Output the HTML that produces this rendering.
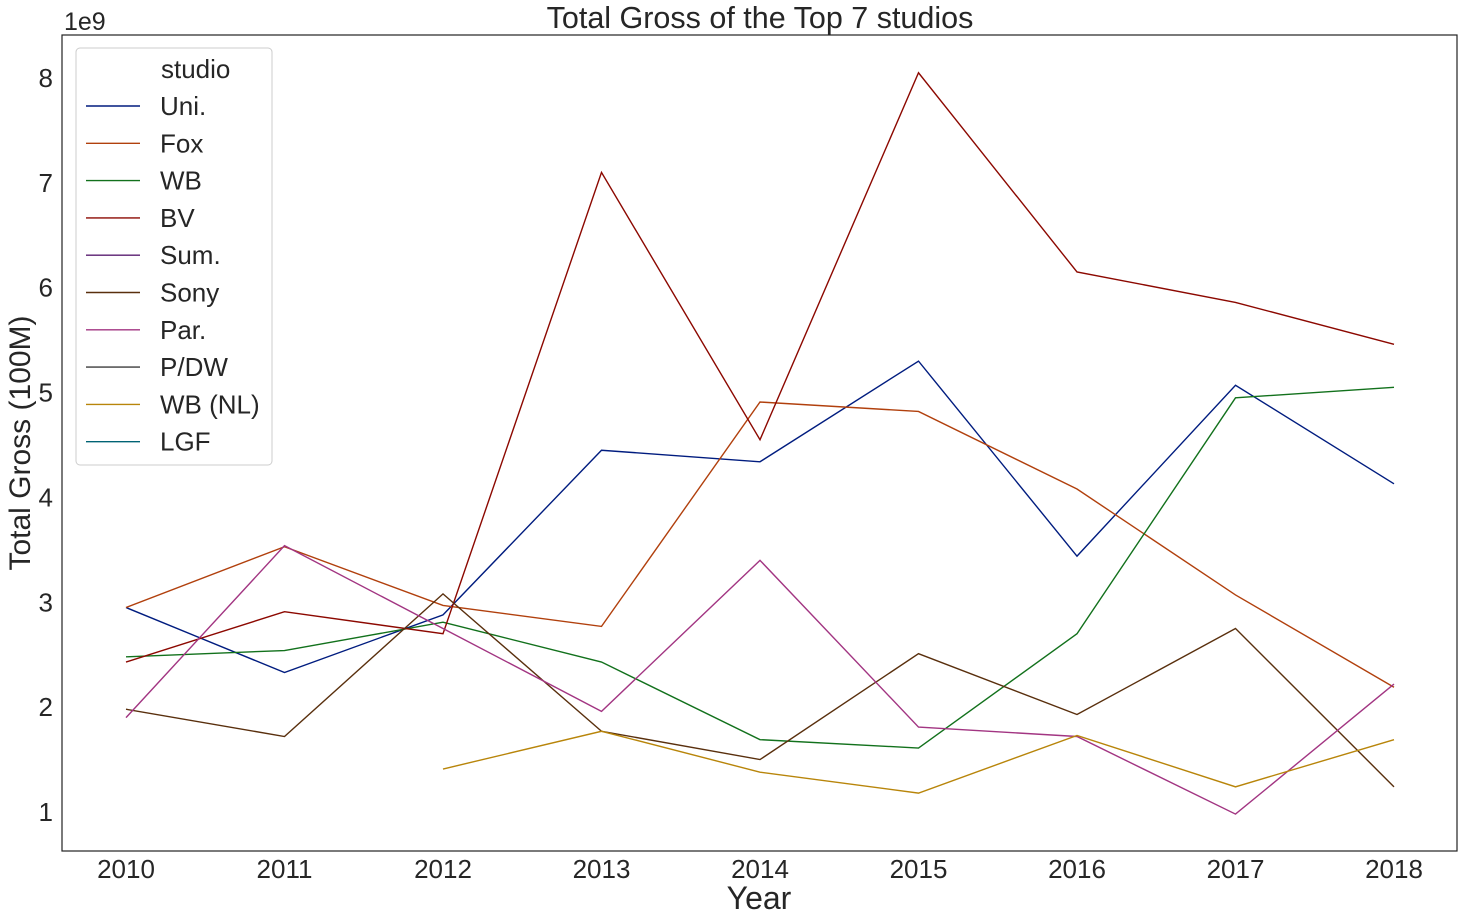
<!DOCTYPE html>
<html><head><meta charset="utf-8"><style>
html,body{margin:0;padding:0;background:#fff;}
svg{display:block;font-family:"Liberation Sans","DejaVu Sans",sans-serif;}
</style></head><body>
<svg id="chart" width="1464" height="922"></svg>
<script>
const years = [2010,2011,2012,2013,2014,2015,2016,2017,2018];
const yTicks = [1,2,3,4,5,6,7,8];
const studios = ["Uni.","Fox","WB","BV","Sum.","Sony","Par.","P/DW","WB (NL)","LGF"];
const colors = ["#001c7f","#b1400d","#12711c","#8c0800","#591e71","#592f0d","#a23582","#3c3c3c","#b8850a","#006374"];
const uni = [2.95,2.33,2.88,4.45,4.34,5.30,3.44,5.07,4.13];
const fox = [2.95,3.53,2.97,2.77,4.91,4.82,4.08,3.07,2.19];
const wb = [2.48,2.54,2.81,2.43,1.69,1.61,2.70,4.95,5.05];
const bv = [2.43,2.91,2.70,7.10,4.55,8.05,6.15,5.86,5.46];
const sum = [null,null,null,null,null,null,null,null,null];
const sony = [1.98,1.72,3.08,1.77,1.50,2.51,1.93,2.75,1.24];
const par = [1.90,3.54,2.75,1.96,3.40,1.81,1.72,0.98,2.22];
const pdw = [null,null,null,null,null,null,null,null,null];
const wbnl = [null,null,1.41,1.77,1.38,1.18,1.73,1.24,1.69];
const lgf = [null,null,null,null,null,null,null,null,null];
const seriesData = [uni,fox,wb,bv,sum,sony,par,pdw,wbnl,lgf];

const NS="http://www.w3.org/2000/svg";
const svg=document.getElementById('chart');
function mk(tag,attrs,parent){const e=document.createElementNS(NS,tag);for(const k in attrs)e.setAttribute(k,attrs[k]);(parent||svg).appendChild(e);return e;}
const L=62,R=1457,T=35,B=851;
const xS=v=>126+(v-2010)*(1394-126)/8;
const yS=v=>812-(v-1)*(812-78)/7;

const frame=mk('rect',{x:L,y:T,width:R-L,height:B-T,fill:'none',stroke:'#222','stroke-width':1.2});



years.forEach(y=>{const t=mk('text',{x:xS(y),y:878,'font-size':26,'text-anchor':'middle',fill:'#262626'});t.textContent=y;

});
yTicks.forEach(v=>{const t=mk('text',{x:53,y:yS(v)+9,'font-size':26,'text-anchor':'end',fill:'#262626'});t.textContent=v;

});

let t=mk('text',{x:64,y:30,'font-size':25,fill:'#262626'});t.textContent='1e9';


t=mk('text',{x:760,y:28,'font-size':30.5,'text-anchor':'middle',fill:'#262626'});t.textContent='Total Gross of the Top 7 studios';


t=mk('text',{x:759,y:909,'font-size':32,'text-anchor':'middle',fill:'#262626'});t.textContent='Year';


t=mk('text',{x:30,y:443,'font-size':30,'text-anchor':'middle',fill:'#262626',transform:'rotate(-90 30 443)'});t.textContent='Total Gross (100M)';



seriesData.forEach((arr,i)=>{
  let d='';let pen=false;
  arr.forEach((v,j)=>{if(v===null){pen=false;return;}d+=(pen?'L':'M')+xS(years[j])+','+yS(v)+' ';pen=true;});
  if(!d)return;
  const p=mk('path',{d:d,fill:'none',stroke:colors[i],'stroke-width':1.4});
  
  
});

const lg=mk('g',{});


mk('rect',{x:76,y:48,width:196,height:417,rx:4,fill:'#fff',stroke:'#ccc','stroke-width':1},lg);
t=mk('text',{x:161,y:78,'font-size':26,fill:'#262626'},lg);t.textContent='studio';


studios.forEach((s,i)=>{
  const yy=106+i*37.3;
  const g=mk('g',{},lg);
  
  
  mk('line',{x1:86,x2:140,y1:yy,y2:yy,stroke:colors[i],'stroke-width':1.4},g);
  const tt=mk('text',{x:160,y:yy+9,'font-size':26,fill:'#262626'},g);tt.textContent=s;
});
</script>
</body></html>
